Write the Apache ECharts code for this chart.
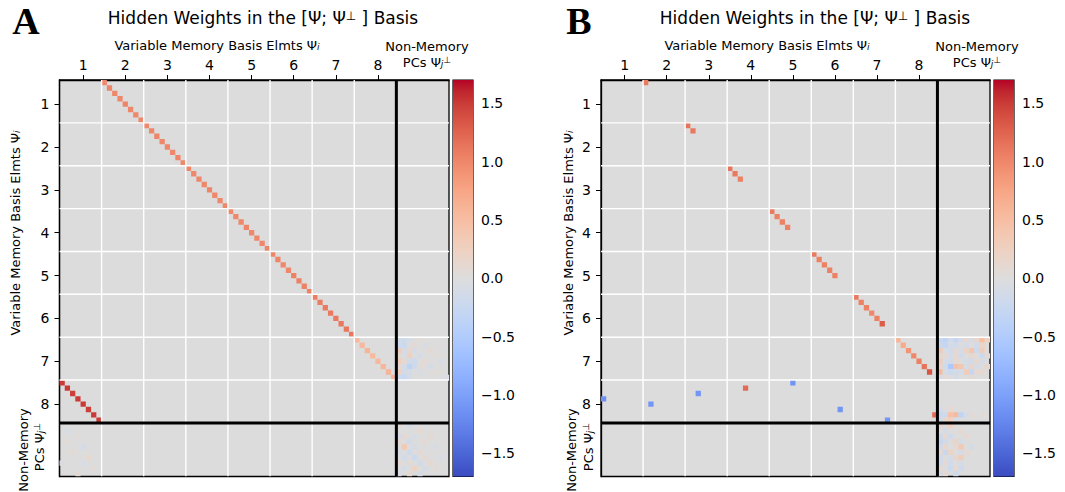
<!DOCTYPE html>
<html><head><meta charset="utf-8">
<script src="https://cdn.jsdelivr.net/npm/echarts@6/dist/echarts.min.js"></script>
<style>html,body{margin:0;padding:0;background:#fff}#c{width:1065px;height:492px}</style>
</head><body><div id="c"></div>
<script>
// ---------------- DATA ----------------
const blockLabels = ['1','2','3','4','5','6','7','8'];
const colorbarTicks = [-1.5, -1, -0.5, 0, 0.5, 1, 1.5];
const vmin = -1.7, vmax = 1.7;
const blockSize = 8, nMem = 64, nTotal = 74;

// Panel A: each row block b maps onto column block diagATarget[b] along a diagonal
const diagATarget = [1, 2, 3, 4, 5, 6, 7, 0];
const diagA0 = [1.0, 1.02, 1.0, 1.0, 1.02, 1.0, 1.0, 1.0];
const diagA1 = [1.0, 1.0, 1.02, 1.0, 1.0, 1.0, 1.02, 1.0];
const diagA2 = [1.02, 1.0, 1.0, 1.0, 1.02, 1.0, 1.0, 1.0];
const diagA3 = [1.0, 1.0, 1.0, 1.02, 1.0, 1.0, 1.0, 1.02];
const diagA4 = [1.02, 1.02, 1.0, 1.0, 1.05, 1.05, 1.05, 1.05];
const diagA5 = [1.08, 1.08, 1.1, 1.1, 1.1, 1.12, 1.12, 1.12];
const diagA6 = [0.55, 0.55, 0.6, 0.55, 0.55, 0.58, 0.6, 0.6];
const diagA7 = [1.5, 1.5, 1.48, 1.5, 1.5, 1.48, 1.5, 1.5];
const diagA = [diagA0, diagA1, diagA2, diagA3, diagA4, diagA5, diagA6, diagA7];

// Panel A: small non-memory weights [col, row, value]
const noiseA = [
  [64,48,-0.15],[65,48,-0.2],[66,48,-0.08],[68,48,0.06],
  [64,49,-0.2],[65,49,-0.22],[67,49,0.08],[69,49,-0.06],
  [64,50,0.3],[65,50,-0.1],[66,50,0.15],[67,50,-0.1],[70,50,0.08],
  [64,51,0.12],[65,51,-0.08],[66,51,0.25],[68,51,-0.12],[71,51,0.07],
  [64,52,0.28],[65,52,0.1],[66,52,-0.15],[67,52,-0.2],[69,52,0.1],[72,52,-0.08],
  [64,53,0.1],[65,53,-0.12],[66,53,-0.35],[67,53,-0.2],[68,53,0.08],[70,53,-0.1],
  [64,54,0.25],[65,54,-0.15],[66,54,-0.1],[68,54,-0.08],[71,54,0.06],
  [64,55,-0.22],[65,55,-0.25],[66,55,-0.1],[73,55,-0.06],
  [64,64,0.08],[66,64,-0.1],[68,65,0.12],[64,66,-0.12],[65,66,0.1],[67,66,-0.08],[70,66,0.08],
  [64,67,0.1],[66,67,-0.15],[69,67,0.1],[65,68,0.35],[67,68,-0.1],[71,68,-0.08],
  [64,69,-0.1],[66,69,-0.2],[68,69,0.08],[65,70,-0.15],[67,70,-0.22],[69,70,0.1],[72,70,-0.08],
  [64,71,0.1],[66,71,0.08],[68,71,-0.15],[70,71,0.1],[65,72,-0.1],[67,72,0.22],[69,72,-0.12],[71,72,0.08],
  [64,73,-0.08],[66,73,0.12],[68,73,-0.1],
  [1,65,-0.08],[3,66,0.06],[4,68,-0.12],[2,69,0.08],[5,70,0.12],[0,71,-0.06],[4,71,-0.08],[6,72,0.06],[3,73,0.08],[1,67,0.06]
];

// Panel B: row block b (b = 0..6) has b+1 entries on a diagonal into column block b+1
const diagB0 = [1.1];
const diagB1 = [1.15, 1.1];
const diagB2 = [1.15, 1.1, 1.05];
const diagB3 = [1.1, 1.05, 1.05, 1.05];
const diagB4 = [1.1, 1.05, 1.05, 1.05, 1.05];
const diagB5 = [1.1, 1.05, 1.05, 1.0, 1.05, 1.3];
const diagB6 = [0.6, 0.7, 0.9, 1.0, 1.05, 1.15, 1.35];
const diagB = [diagB0, diagB1, diagB2, diagB3, diagB4, diagB5, diagB6];

// Panel B: last row block, one entry per column block
const scatterBCols = [0, 9, 18, 27, 36, 45, 54, 63];
const scatterBRows = [59, 60, 58, 57, 56, 61, 63, 62];
const scatterBVals = [-1.15, -1.1, -1.1, 1.2, -1.12, -1.1, -1.1, 1.2];

// Panel B: small non-memory weights [col, row, value]
const noiseB = [
  [64,48,-0.3],[65,48,-0.35],[66,48,-0.15],[67,48,-0.28],[68,48,-0.12],[69,48,0.1],[70,48,-0.1],[71,48,0.15],[72,48,0.5],[73,48,0.25],
  [64,49,-0.25],[65,49,-0.3],[66,49,-0.1],[67,49,-0.18],[69,49,-0.12],[71,49,-0.15],[72,49,0.2],
  [64,50,0.35],[65,50,-0.08],[66,50,-0.15],[67,50,0.1],[68,50,-0.1],[69,50,0.2],[70,50,0.4],[71,50,-0.2],[72,50,0.3],
  [64,51,0.15],[65,51,0.1],[66,51,-0.12],[67,51,0.12],[68,51,-0.15],[70,51,0.15],[72,51,-0.22],[73,51,0.1],
  [64,52,0.3],[65,52,-0.1],[66,52,-0.15],[67,52,0.12],[69,52,-0.1],[70,52,-0.15],[71,52,0.12],[72,52,-0.1],
  [64,53,0.2],[65,53,-0.15],[66,53,-0.55],[67,53,0.45],[68,53,0.4],[69,53,-0.1],[70,53,0.2],[71,53,-0.12],[73,53,0.15],
  [64,54,0.55],[65,54,-0.1],[66,54,-0.2],[67,54,-0.15],[68,54,-0.12],[69,54,0.3],[70,54,-0.3],[71,54,0.1],[72,54,0.12],
  [64,55,-0.12],[65,55,0.08],[67,55,-0.1],[70,55,0.08],
  [64,61,-0.12],[66,61,0.1],
  [64,62,-0.25],[65,62,-0.2],[66,62,0.45],[67,62,0.55],[68,62,-0.35],[69,62,-0.12],[70,62,0.1],[72,62,0.08],
  [64,63,-0.2],[65,63,0.15],[66,63,0.25],[67,63,-0.1],
  [64,64,0.15],[66,64,0.25],[65,65,-0.12],[68,65,0.1],
  [64,66,-0.25],[65,66,0.12],[66,66,-0.18],[69,66,0.1],
  [64,67,-0.3],[65,67,-0.15],[67,67,0.2],[68,67,-0.1],
  [64,68,-0.2],[65,68,0.15],[67,68,0.12],[68,68,0.35],[70,68,-0.1],
  [64,69,0.12],[65,69,-0.25],[66,69,0.2],[68,69,-0.12],[69,69,0.1],
  [64,70,-0.18],[66,70,-0.1],[67,70,0.15],[68,70,0.3],
  [64,71,-0.2],[65,71,0.1],[66,71,-0.15],[68,71,-0.1],
  [64,72,0.1],[66,72,-0.2],[67,72,0.12],[68,72,-0.18],
  [64,73,-0.12],[65,73,0.1],[67,73,-0.2]
];

// ---------------- COLORMAP (matplotlib coolwarm) ----------------
const CW = [[59,76,192],[68,90,204],[77,104,215],[87,117,225],[98,130,234],[108,142,241],[119,154,247],[130,165,251],
  [141,176,254],[152,185,255],[163,194,255],[174,201,253],[184,208,249],[194,213,244],[204,217,238],[213,219,230],
  [221,221,221],[229,216,209],[236,211,197],[241,204,184],[245,196,172],[247,187,159],[247,177,147],[247,166,134],
  [244,154,123],[241,141,111],[236,127,99],[229,112,89],[222,96,77],[213,80,66],[203,62,56],[192,40,47],[180,4,38]];
function cwAt(t){
  t = Math.max(0, Math.min(1, t));
  const f = t * (CW.length - 1), i = Math.min(CW.length - 2, Math.floor(f)), u = f - i;
  const a = CW[i], b = CW[i + 1];
  return 'rgb(' + [0,1,2].map(k => Math.round(a[k] + (b[k] - a[k]) * u)).join(',') + ')';
}
function coolwarm(v){ return cwAt((v - vmin) / (vmax - vmin)); }

// ---------------- BUILD CELLS ----------------
function cellsA(){
  const out = [];
  diagA.forEach((vals, b) => vals.forEach((v, i) => out.push([diagATarget[b] * blockSize + i, b * blockSize + i, v])));
  noiseA.forEach(d => out.push(d));
  return out;
}
function cellsB(){
  const out = [];
  diagB.forEach((vals, b) => vals.forEach((v, i) => out.push([(b + 1) * blockSize + i, b * blockSize + i, v])));
  scatterBCols.forEach((c, k) => out.push([c, scatterBRows[k], scatterBVals[k]]));
  noiseB.forEach(d => out.push(d));
  return out;
}
const boundaries = [];
for (let k = 1; k < 8; k++) { boundaries.push([k * blockSize, 0, 0]); boundaries.push([k * blockSize, 1, 0]); }
boundaries.push([nMem, 0, 1]); boundaries.push([nMem, 1, 1]);
const tickPos = blockLabels.map((_, k) => k * blockSize + blockSize / 2 + 0.5);

// ---------------- LAYOUT ----------------
const FONT = 'DejaVu Sans';
const panels = [
  {left: 59.5, width: 389.5, cbLeft: 453, cells: cellsA()},
  {left: 601, width: 389, cbLeft: 994, cells: cellsB()}
];
const TOP = 80, HEIGHT = 396.5;

const grids = [], xAxes = [], yAxes = [], series = [];
panels.forEach((p, pi) => {
  const gi = grids.length;
  grids.push({left: p.left, top: TOP, width: p.width, height: HEIGHT, show: true, backgroundColor: '#dcdcdc',
    borderColor: '#000', borderWidth: 1.3, containLabel: false, outerBoundsMode: 'none'});
  xAxes.push({gridIndex: gi, type: 'value', position: 'top', min: 0, max: nTotal,
    axisLine: {show: true, lineStyle: {color: '#000', width: 1.3}},
    axisTick: {show: true, customValues: tickPos, length: 5, lineStyle: {color: '#000', width: 1}},
    axisLabel: {show: true, customValues: tickPos, margin: 8, color: '#000', fontSize: 14, fontFamily: FONT,
      formatter: v => blockLabels[Math.round((v - 4.5) / blockSize)]},
    splitLine: {show: false}});
  yAxes.push({gridIndex: gi, type: 'value', inverse: true, min: 0, max: nTotal,
    axisLine: {show: true, lineStyle: {color: '#000', width: 1.3}},
    axisTick: {show: true, customValues: tickPos, length: 5, lineStyle: {color: '#000', width: 1}},
    axisLabel: {show: true, customValues: tickPos, margin: 10, color: '#000', fontSize: 14, fontFamily: FONT,
      formatter: v => blockLabels[Math.round((v - 4.5) / blockSize)]},
    splitLine: {show: false}});
  series.push({type: 'custom', xAxisIndex: gi, yAxisIndex: gi, data: p.cells, clip: true, z: 2,
    animation: false, silent: true, encode: {x: 0, y: 1},
    renderItem: (params, api) => {
      const c = api.value(0), r = api.value(1), v = api.value(2);
      const a = api.coord([c, r]), b = api.coord([c + 1, r + 1]);
      return {type: 'rect', shape: {x: Math.min(a[0], b[0]), y: Math.min(a[1], b[1]),
        width: Math.abs(b[0] - a[0]), height: Math.abs(b[1] - a[1])}, style: {fill: coolwarm(v)}};
    }});
  series.push({type: 'custom', xAxisIndex: gi, yAxisIndex: gi, data: boundaries, clip: true, z: 3,
    animation: false, silent: true,
    renderItem: (params, api) => {
      const pos = api.value(0), orient = api.value(1), thick = api.value(2);
      const a = orient === 0 ? api.coord([pos, 0]) : api.coord([0, pos]);
      const b = orient === 0 ? api.coord([pos, nTotal]) : api.coord([nTotal, pos]);
      return {type: 'line', z2: thick ? 10 : 1, shape: {x1: a[0], y1: a[1], x2: b[0], y2: b[1]},
        style: {stroke: thick ? '#000' : '#ffffff', lineWidth: thick ? 3 : 1.4}};
    }});
  // colorbar
  const ci = grids.length;
  grids.push({left: p.cbLeft, top: TOP, width: 20, height: HEIGHT, show: true, borderColor: '#000', borderWidth: 1.2,
    containLabel: false, outerBoundsMode: 'none'});
  xAxes.push({gridIndex: ci, type: 'value', min: 0, max: 1, show: false});
  yAxes.push({gridIndex: ci, type: 'value', position: 'right', min: vmin, max: vmax,
    axisLine: {show: false},
    axisTick: {show: true, customValues: colorbarTicks, length: 5, lineStyle: {color: '#000', width: 1}},
    axisLabel: {show: true, customValues: colorbarTicks, margin: 8, color: '#000', fontSize: 14, fontFamily: FONT,
      formatter: v => (v < 0 ? '\u2212' : '') + Math.abs(v).toFixed(1)},
    splitLine: {show: false}});
  series.push({type: 'custom', xAxisIndex: ci, yAxisIndex: ci, data: [[0, vmin, vmax]], animation: false, silent: true, z: 2,
    renderItem: (params, api) => {
      const a = api.coord([0, api.value(2)]), b = api.coord([1, api.value(1)]);
      const stops = [];
      for (let k = 0; k <= 32; k++) stops.push({offset: k / 32, color: cwAt(1 - k / 32)});
      return {type: 'rect', shape: {x: a[0], y: a[1], width: b[0] - a[0], height: b[1] - a[1]},
        style: {fill: new echarts.graphic.LinearGradient(0, 0, 0, 1, stops)}};
    }});
});

// ---------------- TEXT ----------------
function txt(x, y, text, opts){
  opts = opts || {};
  const style = Object.assign({text: text, x: 0, y: 0, fontSize: opts.size || 13, fontFamily: opts.family || FONT,
    fontWeight: opts.weight || 'normal', fill: '#000', align: 'center', verticalAlign: 'middle',
    textAlign: 'center', textVerticalAlign: 'middle'}, opts.style || {});
  if (opts.rich) style.rich = opts.rich;
  return {type: 'text', x: x, y: y, rotation: opts.rot || 0, silent: true, style: style};
}
function richSet(size){
  return {
    n: {fontSize: size, fontFamily: FONT, fill: '#000', color: '#000'},
    sub: {fontSize: Math.round(size * 0.72), fontFamily: FONT, fontStyle: 'italic', fill: '#000', color: '#000', verticalAlign: 'bottom'},
    sup: {fontSize: Math.round(size * 0.72), fontFamily: FONT, fill: '#000', color: '#000', verticalAlign: 'top'}
  };
}
const titleText = '{n|Hidden Weights in the [\u03a8; \u03a8}{sup|\u22a5}{n| ] Basis}';
const memText = '{n|Variable Memory Basis Elmts \u03a8}{sub|i}';
const pcsText = '{n|PCs \u03a8}{sub|j}{sup|\u22a5}';
const graphics = [];
const texts = [
  {letter: 'A', lx: 26, tx: 263, mx: 217, nx: 427, yl: 15, ynm: 23, ypc: 39},
  {letter: 'B', lx: 579, tx: 815, mx: 767, nx: 977, yl: 568, ynm: 571, ypc: 588}
];
texts.forEach(t => {
  graphics.push(txt(t.lx, 21, t.letter, {size: 38, family: 'Liberation Serif', weight: 'bold'}));
  graphics.push(txt(t.tx, 18, titleText, {size: 17, rich: richSet(17)}));
  graphics.push(txt(t.mx, 45, memText, {size: 13, rich: richSet(13)}));
  graphics.push(txt(t.nx, 46, 'Non-Memory', {size: 13}));
  graphics.push(txt(t.nx, 62, pcsText, {size: 13, rich: richSet(13)}));
  graphics.push(txt(t.yl, 233, memText, {size: 13, rich: richSet(13), rot: Math.PI / 2}));
  graphics.push(txt(t.ynm, 450, 'Non-Memory', {size: 13, rot: Math.PI / 2}));
  graphics.push(txt(t.ypc, 447, pcsText, {size: 13, rich: richSet(13), rot: Math.PI / 2}));
});

const chart = echarts.init(document.getElementById('c'), null, {renderer: 'svg', width: 1065, height: 492});
chart.setOption({
  animation: false,
  backgroundColor: '#ffffff',
  grid: grids, xAxis: xAxes, yAxis: yAxes, series: series,
  graphic: {elements: graphics}
});
</script>
</body></html>
